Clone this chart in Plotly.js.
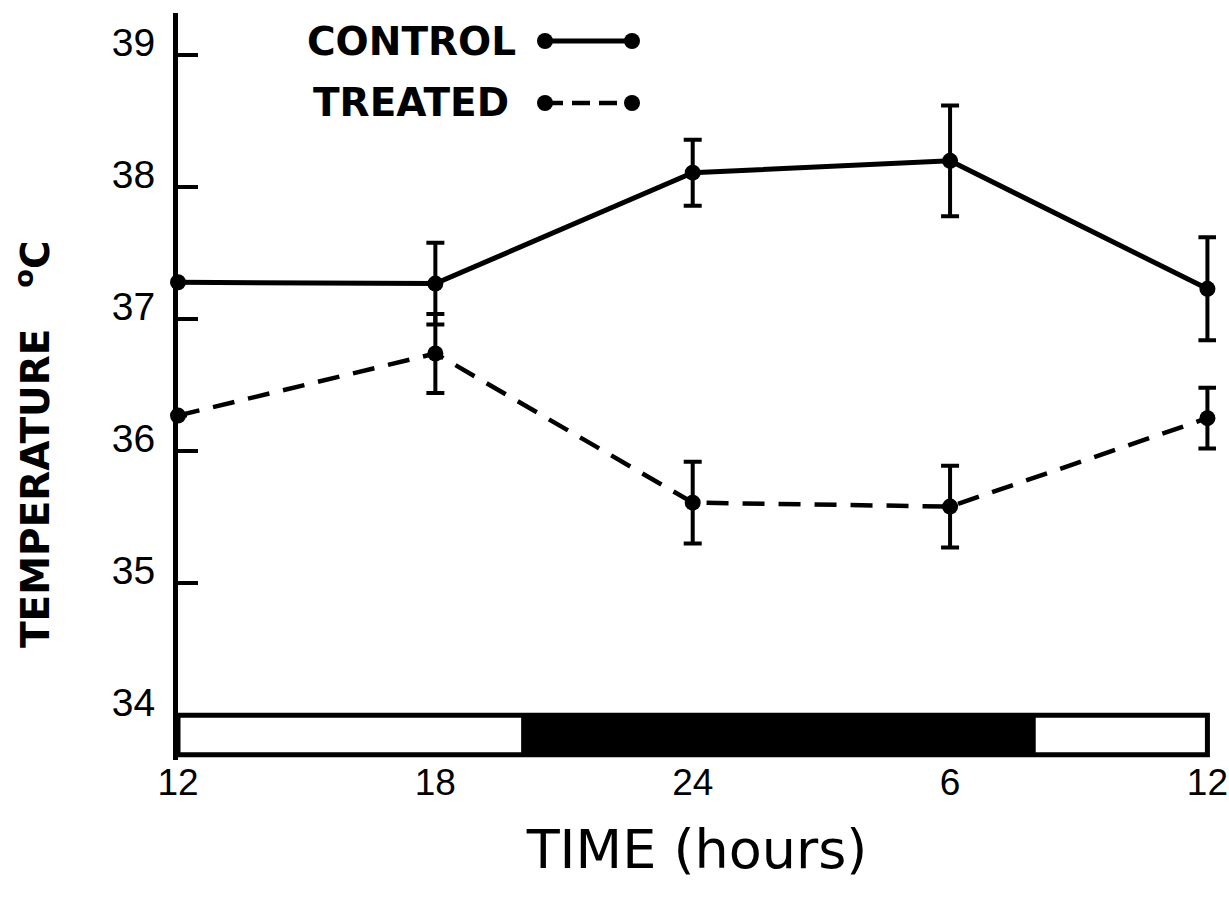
<!DOCTYPE html>
<html><head><meta charset="utf-8">
<script src="https://cdn.plot.ly/plotly-3.0.1.min.js"></script>
<style>html,body{margin:0;padding:0;background:#fff}#chart{width:1229px;height:897px}</style>
</head><body><div id="chart"></div>
<script>
// ---- data ----
const hours = [0, 6, 12, 18, 24];
const hourLabels = ['12', '18', '24', '6', '12'];
const controlMean = [37.28, 37.27, 38.11, 38.20, 37.23];
const controlErr = [0, 0.31, 0.25, 0.42, 0.39];
const treatedMean = [36.27, 36.74, 35.61, 35.58, 36.25];
const treatedErr = [0, 0.30, 0.31, 0.31, 0.23];
const tempTicks = [34, 35, 36, 37, 38, 39];
const periodStart = [0, 8, 20];
const periodEnd = [8, 20, 24];
const periodDark = [false, true, false];
const barTop = 34, barBottom = 33.7;
const seriesNames = ['CONTROL', 'TREATED'];
const yTitle = 'TEMPERATURE   <sup>o</sup>C';
const xTitle = 'TIME (hours)';

// ---- layout geometry ----
const W = 1229, H = 897;
const M = {l: 178, r: 13, t: 13, b: 137};
const xRange = [0, 24.2], yRange = [33.66, 39.32];
const pw = W - M.l - M.r, ph = H - M.t - M.b;
const px2x = p => xRange[0] + (p - M.l) / pw * (xRange[1] - xRange[0]);
const py2y = p => yRange[1] - (p - M.t) / ph * (yRange[1] - yRange[0]);
const px2paper = p => (p - M.l) / pw;
const py2paper = p => 1 - (p - M.t) / ph;

const traces = [
  {
    x: hours, y: controlMean, name: seriesNames[0], type: 'scatter', mode: 'lines+markers',
    line: {color: '#000', width: 5},
    marker: {color: '#000', size: 16},
    error_y: {type: 'data', array: controlErr, visible: true, color: '#000', thickness: 4, width: 9},
    cliponaxis: false
  },
  {
    x: hours, y: treatedMean, name: seriesNames[1], type: 'scatter', mode: 'lines+markers',
    line: {color: '#000', width: 4.5, dash: '22px,14px'},
    marker: {color: '#000', size: 16},
    error_y: {type: 'data', array: treatedErr, visible: true, color: '#000', thickness: 4, width: 9},
    cliponaxis: false
  }
];

const shapes = [];
for (let i = 0; i < periodStart.length; i++) {
  shapes.push({type: 'rect', xref: 'x', yref: 'y', x0: periodStart[i], x1: periodEnd[i],
    y0: barBottom, y1: barTop, fillcolor: periodDark[i] ? '#000' : '#fff', line: {width: 0}, layer: 'below'});
}
shapes.push({type: 'rect', xref: 'x', yref: 'y', x0: periodStart[0], x1: periodEnd[periodEnd.length - 1],
  y0: barBottom, y1: barTop, fillcolor: 'rgba(0,0,0,0)', line: {width: 5, color: '#000'}, layer: 'above'});

// legend samples (decoration)
const legY = [41, 103];
const legX0 = 545, legX1 = 632;
shapes.push({type: 'line', xref: 'x', yref: 'y', x0: px2x(legX0), x1: px2x(legX1), y0: py2y(legY[0]), y1: py2y(legY[0]),
  line: {color: '#000', width: 5}});
shapes.push({type: 'line', xref: 'x', yref: 'y', x0: px2x(legX0), x1: px2x(legX1), y0: py2y(legY[1]), y1: py2y(legY[1]),
  line: {color: '#000', width: 4.5, dash: '18px,9px'}});
[legY[0], legY[1]].forEach(yy => {
  [legX0, legX1].forEach(xx => {
    shapes.push({type: 'circle', xref: 'x', yref: 'y', xsizemode: 'pixel', ysizemode: 'pixel',
      xanchor: px2x(xx), yanchor: py2y(yy), x0: -8, x1: 8, y0: -8, y1: 8,
      fillcolor: '#000', line: {width: 0}});
  });
});

const annotations = [
  {xref: 'paper', yref: 'paper', x: px2paper(legX0 - 27), y: py2paper(legY[0]), xanchor: 'right', yanchor: 'middle',
   text: seriesNames[0], showarrow: false, font: {family: 'DejaVu Sans', size: 39, color: '#000', weight: 'bold'}},
  {xref: 'paper', yref: 'paper', x: px2paper(legX0 - 34), y: py2paper(legY[1]), xanchor: 'right', yanchor: 'middle',
   text: seriesNames[1], showarrow: false, font: {family: 'DejaVu Sans', size: 39, color: '#000', weight: 'bold'}},
  {xref: 'paper', yref: 'paper', x: px2paper(33), y: py2paper(444), xanchor: 'center', yanchor: 'middle', textangle: -90,
   text: yTitle, showarrow: false, font: {family: 'DejaVu Sans', size: 39, color: '#000', weight: 'bold'}}
];

const layout = {
  width: W, height: H,
  margin: M,
  paper_bgcolor: '#fff', plot_bgcolor: '#fff',
  showlegend: false,
  xaxis: {
    range: xRange, tickvals: hours, ticktext: hourLabels, ticks: '', showline: false,
    showgrid: false, zeroline: false, ticklabelstandoff: -3, ticklabeloverflow: 'allow',
    tickfont: {family: 'Liberation Sans', size: 37, color: '#000'},
    title: {text: xTitle, standoff: 28, font: {family: 'DejaVu Sans', size: 54, color: '#000'}}
  },
  yaxis: {
    range: yRange, tickvals: tempTicks, ticks: 'inside', ticklen: 20, tickwidth: 4, tickcolor: '#000',
    showline: true, linewidth: 5, linecolor: '#000', showgrid: false, zeroline: false,
    ticklabelstandoff: 10, ticklabelshift: -13,
    tickfont: {family: 'Liberation Sans', size: 39, color: '#000'}
  },
  shapes: shapes,
  annotations: annotations
};

Plotly.newPlot('chart', traces, layout, {displayModeBar: false, staticPlot: true});
</script>
</body></html>
